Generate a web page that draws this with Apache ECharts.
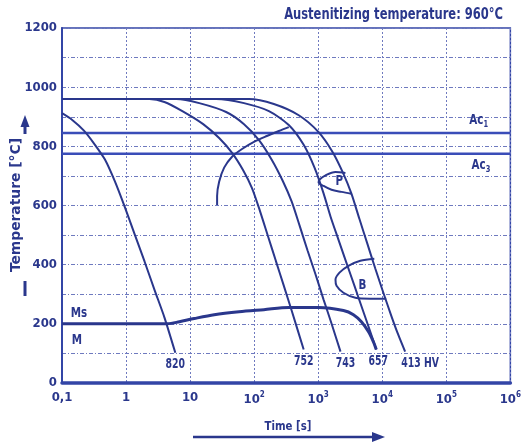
<!DOCTYPE html>
<html>
<head>
<meta charset="utf-8">
<script src="https://cdn.jsdelivr.net/npm/echarts@6/dist/echarts.min.js"></script>
<style>
  html, body { margin: 0; padding: 0; background: #ffffff; }
  #chart { width: 524px; height: 446px; }
</style>
</head>
<body>
<div id="chart"></div>
<script>
// Continuous cooling transformation diagram, austenitized at 960 °C.
// Time axis is logarithmic (s), temperature in °C.

const timeTicks = [0.1, 1, 10, 100, 1e3, 1e4, 1e5, 1e6];
const tempMin = 0, tempMax = 1200, tempStep = 100;

// Cooling curves: [time s, temperature °C]
const cool820 = [[0.1, 912], [0.143, 890], [0.220, 853], [0.325, 806], [0.466, 756], [0.665, 683], [0.951, 596], [1.36, 503], [1.95, 410], [2.78, 315], [3.97, 222], [5.88, 102]];
const cool752 = [[0.1, 960], [2.32, 960], [3.97, 950], [7.57, 919], [16.0, 875], [28.4, 828], [45.2, 778], [67, 720], [92.5, 659], [123, 582], [164, 497], [218, 413], [290, 329], [386, 244], [593, 113]];
const cool743 = [[0.1, 960], [6.1, 960], [13.9, 946], [36.5, 916], [69.5, 875], [119, 821], [189, 754], [280, 683], [386, 613], [514, 531], [684, 447], [912, 366], [1213, 282], [1614, 201], [2228, 106]];
const cool657 = [[0.1, 960], [25.5, 960], [69.5, 946], [170, 919], [347, 872], [593, 805], [879, 727], [1213, 641], [1560, 562], [2075, 484], [2761, 406], [3673, 329], [4887, 251], [6510, 173], [8070, 113]];
const cool413 = [[0.1, 960], [83, 960], [203, 943], [497, 905], [1014, 848], [1675, 781], [2479, 707], [3301, 640], [4393, 555], [5848, 471], [7783, 387], [10370, 306], [13800, 228], [17700, 164], [22740, 106]];

// Hardness at room temperature for each cooling curve
const hardness = ['820', '752', '743', '657', '413 HV'];

// Transformation boundaries
const ferriteStart = [[347, 865], [243, 852], [158, 835], [99.3, 815], [64.7, 791], [45.2, 765], [34.0, 728], [28.4, 680], [26.4, 632], [26.4, 602]];
const pearliteField = [[2661, 710], [1862, 713], [1303, 702], [1052, 688], [1014, 678], [1213, 666], [1614, 653], [2306, 646], [3301, 640]];
const bainiteField = [[7516, 420], [4550, 413], [2965, 396], [2148, 373], [1862, 349], [1932, 329], [2479, 305], [3808, 288], [6510, 285], [11530, 285]];
const msLine = [[0.1, 200], [4.43, 200], [6.80, 207], [11.6, 218], [23.8, 231], [58.1, 241], [142, 248], [347, 255], [1014, 255], [2479, 245], [3548, 231], [4722, 207], [6067, 174], [7252, 140], [8070, 113]];

// Critical temperatures
const ac1 = 845, ac3 = 775;

// Text annotations: [time, temperature, text]
const notes = [
  [2138, 682, 'P'],
  [4898, 331, 'B'],
  [0.184, 236, 'Ms'],
  [0.171, 143, 'M'],
  [3.2e5, 888, 'Ac{s|1}'],
  [3.47e5, 737, 'Ac{s|3}']
];

const ink = '#2a378c';
const frame = '#3345a6';
const gridCol = '#6f7abf';
const font = "'Liberation Sans Narrow', 'DejaVu Sans Condensed', 'Arial Narrow', sans-serif";

const coolingSets = [cool820, cool752, cool743, cool657, cool413];

const coolingSeries = coolingSets.map(pts => ({
  type: 'line', data: pts, smooth: 0.25, symbol: 'none',
  lineStyle: { color: ink, width: 2 }, z: 3
}));

function boundary(pts, width) {
  return { type: 'line', data: pts, smooth: 0.3, symbol: 'none', lineStyle: { color: ink, width: width }, z: 4 };
}

function levelLine(t) {
  return { type: 'line', data: [[timeTicks[0], t], [timeTicks[timeTicks.length - 1], t]], symbol: 'none',
    lineStyle: { color: '#3a4db8', width: 2.5 }, z: 2 };
}

const chart = echarts.init(document.getElementById('chart'), null, { renderer: 'canvas' });

chart.setOption({
  animation: false,
  backgroundColor: '#ffffff',
  grid: { left: 62, right: 12, top: 28, bottom: 63, show: true, borderColor: frame, borderWidth: 1.5 },
  xAxis: {
    type: 'log', logBase: 10, min: timeTicks[0], max: timeTicks[timeTicks.length - 1], splitNumber: 7,
    axisLine: { show: true, lineStyle: { color: frame, width: 3.5 } },
    axisTick: { show: false },
    splitLine: { show: true, lineStyle: { color: gridCol, width: 1, type: [2, 2] } },
    axisLabel: {
      margin: 8, color: ink, fontFamily: font, fontSize: 13, fontWeight: 'bold',
      formatter: function (v) {
        const e = Math.round(Math.log10(v));
        if (e === -1) return '0,1';
        if (e === 0) return '1';
        if (e === 1) return '10';
        return '10{s|' + e + '}';
      },
      rich: { s: { fontSize: 8, fontFamily: font, color: ink, fontWeight: 'bold', padding: [0, 0, 9, 0] } }
    }
  },
  yAxis: {
    type: 'value', min: tempMin, max: tempMax, interval: tempStep,
    axisLine: { show: true, lineStyle: { color: frame, width: 2 } },
    axisTick: { show: false },
    splitLine: { show: true, lineStyle: { color: gridCol, width: 1, type: [4, 2, 1, 2] } },
    axisLabel: {
      margin: 5, color: ink, fontFamily: font, fontSize: 13, fontWeight: 'bold',
      formatter: function (v) { return v % 200 === 0 ? String(v) : ''; }
    }
  },
  series: [
    levelLine(ac1),
    levelLine(ac3),
    ...coolingSeries,
    boundary(ferriteStart, 2),
    boundary(pearliteField, 2),
    boundary(bainiteField, 2),
    { type: 'line', data: msLine, smooth: 0.3, symbol: 'none', lineStyle: { color: ink, width: 3 }, z: 4 }
  ]
});

// Condensed text labels anchored to data coordinates
const toPx = p => chart.convertToPixel({ xAxisIndex: 0, yAxisIndex: 0 }, [p[0], p[1]]);
const subRich = { s: { fontSize: 9, fontWeight: 'bold', fontFamily: font, fill: ink, padding: [9, 0, 0, 0] } };

function label(pos, text, size, sx) {
  return {
    type: 'text', x: pos[0], y: pos[1], scaleX: sx, z: 20,
    style: { text: text, fill: ink, font: 'bold ' + size + 'px ' + font, align: 'center', verticalAlign: 'middle', rich: subRich }
  };
}

const shifts = [0, 0, 5, 2, 15];
const graphics = [];

coolingSets.forEach((pts, i) => {
  const end = toPx(pts[pts.length - 1]);
  graphics.push(label([end[0] + shifts[i], end[1] + 12], hardness[i], 14, 0.74));
});

notes.forEach(n => {
  graphics.push(label(toPx(n), n[2], 14, 0.82));
});

graphics.push(
  { type: 'text', x: 503, y: 15, scaleX: 0.8, style: { text: 'Austenitizing temperature: 960°C', fill: ink,
      font: 'bold 16px ' + font, align: 'right', verticalAlign: 'middle' } },
  { type: 'text', x: 16, y: 205, rotation: Math.PI / 2, scaleX: 1.1, style: { text: 'Temperature [°C]', fill: ink,
      font: 'bold 14px ' + font, align: 'center', verticalAlign: 'middle' } },
  { type: 'line', shape: { x1: 25, y1: 296, x2: 25, y2: 281 }, style: { stroke: ink, lineWidth: 3 } },
  { type: 'line', shape: { x1: 25, y1: 134, x2: 25, y2: 124 }, style: { stroke: ink, lineWidth: 3 } },
  { type: 'polygon', shape: { points: [[25, 115], [20.5, 127], [29.5, 127]] }, style: { fill: ink } },
  { type: 'text', x: 288, y: 427, scaleX: 0.87, style: { text: 'Time [s]', fill: ink, font: 'bold 13px ' + font,
      align: 'center', verticalAlign: 'middle' } },
  { type: 'line', shape: { x1: 193, y1: 437, x2: 374, y2: 437 }, style: { stroke: ink, lineWidth: 2.5 } },
  { type: 'polygon', shape: { points: [[385, 437], [372, 432], [372, 442]] }, style: { fill: ink } }
);

chart.setOption({ graphic: graphics });
</script>
</body>
</html>
